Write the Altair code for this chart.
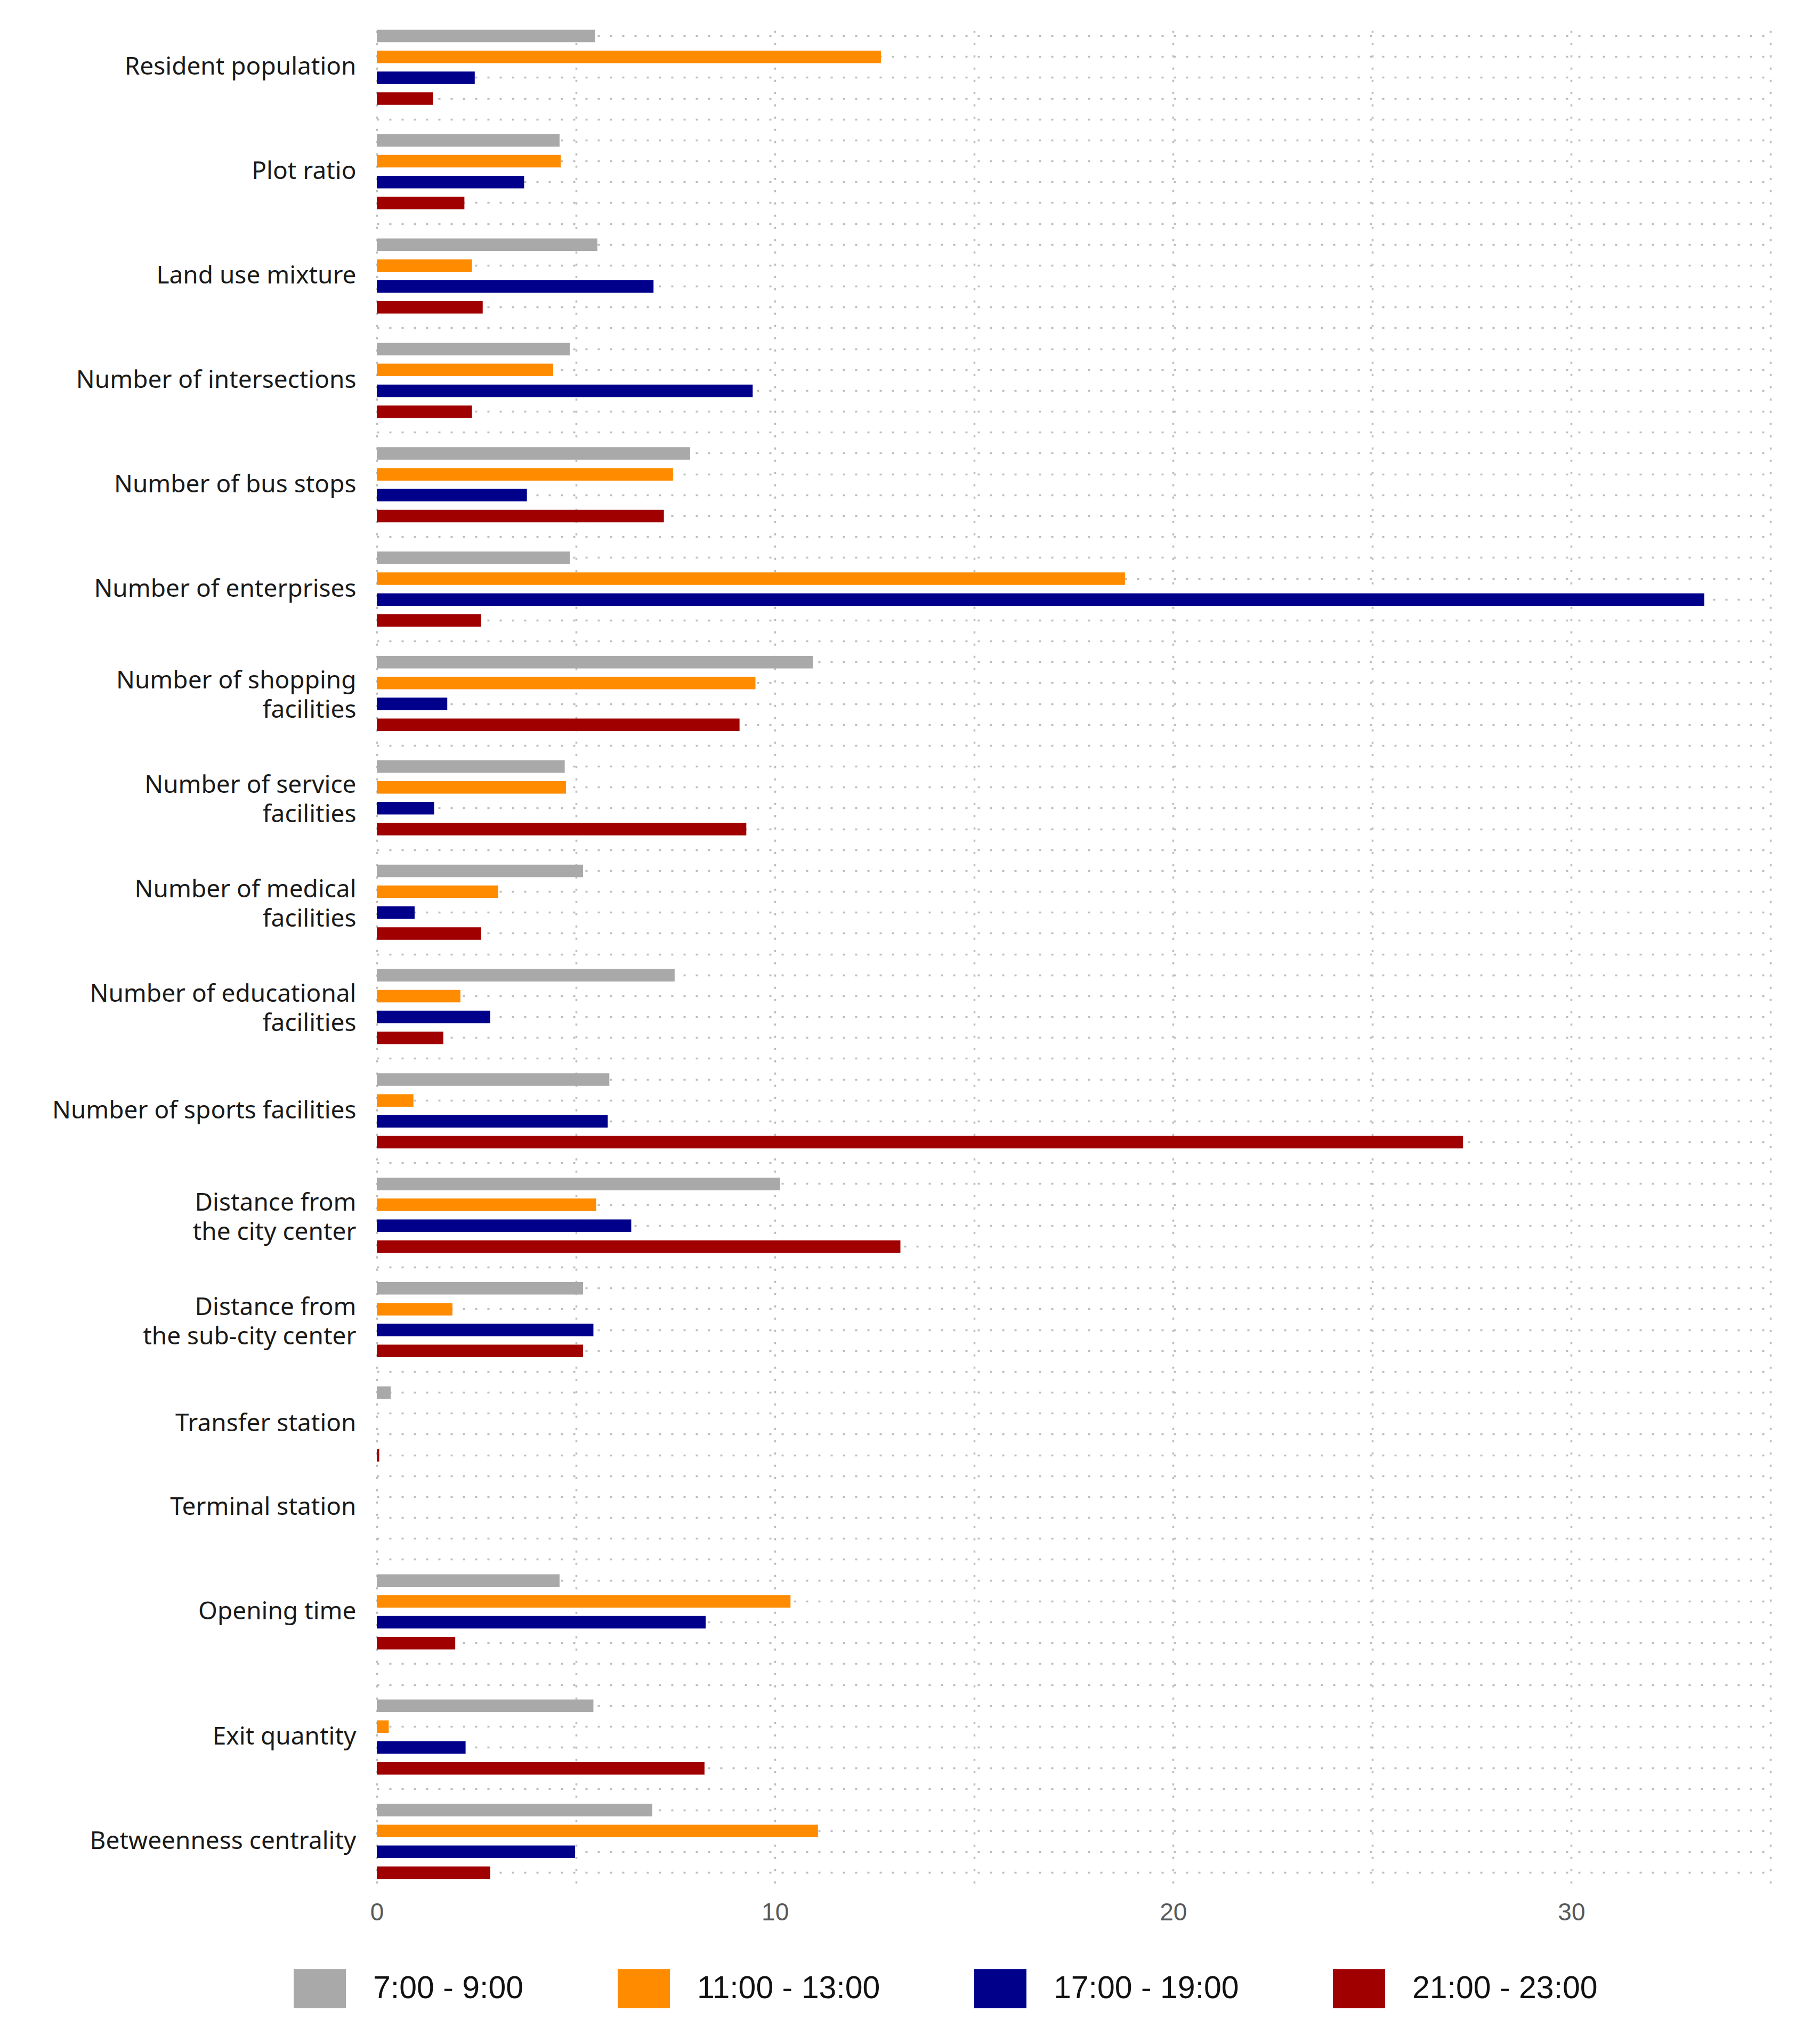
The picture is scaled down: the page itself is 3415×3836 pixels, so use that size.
import altair as alt
import pandas as pd

categories = [
    "Resident population", "Plot ratio", "Land use mixture", "Number of intersections",
    "Number of bus stops", "Number of enterprises", "Number of shopping~facilities",
    "Number of service~facilities", "Number of medical~facilities",
    "Number of educational~facilities", "Number of sports facilities",
    "Distance from~the city center", "Distance from~the sub-city center",
    "Transfer station", "Terminal station", "Opening time", "Exit quantity",
    "Betweenness centrality",
]
# empty slots after each group, and the slot the category label sits under
gaps_after = [1, 1, 1, 1, 1, 1, 1, 1, 1, 1, 1, 1, 1, 1, 0, 2, 1, 0]
label_slot = [1, 1, 1, 1, 1, 1, 1, 1, 1, 1, 1, 1, 1, 1, 0, 1, 1, 1]

series = ["7:00 - 9:00", "11:00 - 13:00", "17:00 - 19:00", "21:00 - 23:00"]
colors = ["#a9a9a9", "#ff8c00", "#00008b", "#a00000"]

v_0709 = [5.48, 4.59, 5.54, 4.85, 7.87, 4.85, 10.95, 4.72, 5.18, 7.48, 5.84, 10.13, 5.18, 0.35, 0.0, 4.59, 5.44, 6.92]
v_1113 = [12.66, 4.62, 2.39, 4.43, 7.44, 18.79, 9.51, 4.75, 3.05, 2.10, 0.92, 5.51, 1.90, 0.0, 0.0, 10.39, 0.30, 11.08]
v_1719 = [2.46, 3.70, 6.95, 9.44, 3.77, 33.34, 1.77, 1.44, 0.95, 2.85, 5.80, 6.39, 5.44, 0.0, 0.0, 8.26, 2.23, 4.98]
v_2123 = [1.41, 2.20, 2.66, 2.39, 7.21, 2.62, 9.11, 9.28, 2.62, 1.67, 27.28, 13.15, 5.18, 0.06, 0.0, 1.97, 8.23, 2.85]

x_ticks = [0, 5, 10, 15, 20, 25, 30, 35]

values = [v_0709, v_1113, v_1719, v_2123]

rows = []
domain = []
for gi, cat in enumerate(categories):
    for si, s in enumerate(series):
        key = f"{cat}|{si}|" + ("L" if si == label_slot[gi] else "")
        domain.append(key)
        rows.append({"row": key, "series": s, "value": values[si][gi]})
    for k in range(gaps_after[gi]):
        domain.append(f"{cat}|gap{k}|")

df = pd.DataFrame(rows)

step = 39.17
plot_h = step * len(domain)

label_expr = "split(datum.value, '|')[2] == 'L' ? split(split(datum.value, '|')[0], '~') : ''"
offset_cond = {
    "condition": {"test": "indexof(datum.value, '~') >= 0", "value": step / 2 + 4 - 27},
    "value": step / 2,
}

chart = alt.Chart(df).mark_bar().encode(
    y=alt.Y(
        "row:N",
        scale=alt.Scale(domain=domain, paddingInner=0.4, paddingOuter=0.2),
        axis=alt.Axis(
            title=None, labelExpr=label_expr, labelOffset=offset_cond,
            ticks=False, tickSize=0, domain=False, grid=True, bandPosition=0.5,
            gridDash=[4, 19], gridWidth=3.5, gridColor="#bdbdbd",
            labelFont="Noto Sans", labelFontSize=46, labelColor="#1a1a1a",
            labelPadding=39, labelLineHeight=55, labelLimit=1000,
            minExtent=620, maxExtent=620, labelBaseline="middle",
        ),
    ),
    x=alt.X(
        "value:Q",
        scale=alt.Scale(domain=[0, 35], nice=False, zero=True),
        axis=alt.Axis(
            title=None, values=x_ticks,
            labelExpr="datum.value % 10 == 0 ? datum.label : ''",
            ticks=False, tickSize=0, domain=False, grid=True,
            gridDash=[4, 19], gridWidth=3.5, gridColor="#bdbdbd",
            labelFont="Liberation Sans", labelFontSize=46, labelColor="#595959",
            labelPadding=33, labelFlush=False,
        ),
    ),
    color=alt.Color(
        "series:N",
        scale=alt.Scale(domain=series, range=colors),
        legend=alt.Legend(
            title=None, orient="none", direction="horizontal", columns=4,
            legendX=-156, legendY=3635,
            symbolType="M-1,-0.75H1V0.75H-1Z", symbolSize=9604,
            symbolStrokeWidth=0, symbolOpacity=1,
            labelFont="Liberation Sans", labelFontSize=59, labelColor="#111111",
            labelOffset=51, columnPadding=176, labelLimit=1000,
        ),
    ),
).properties(
    width=2615,
    height=plot_h,
    padding={"left": 79, "top": 40, "right": 40, "bottom": 20},
).configure_view(
    stroke=None
)

chart.save("out.html", embed_options={"renderer": "svg", "actions": False})
